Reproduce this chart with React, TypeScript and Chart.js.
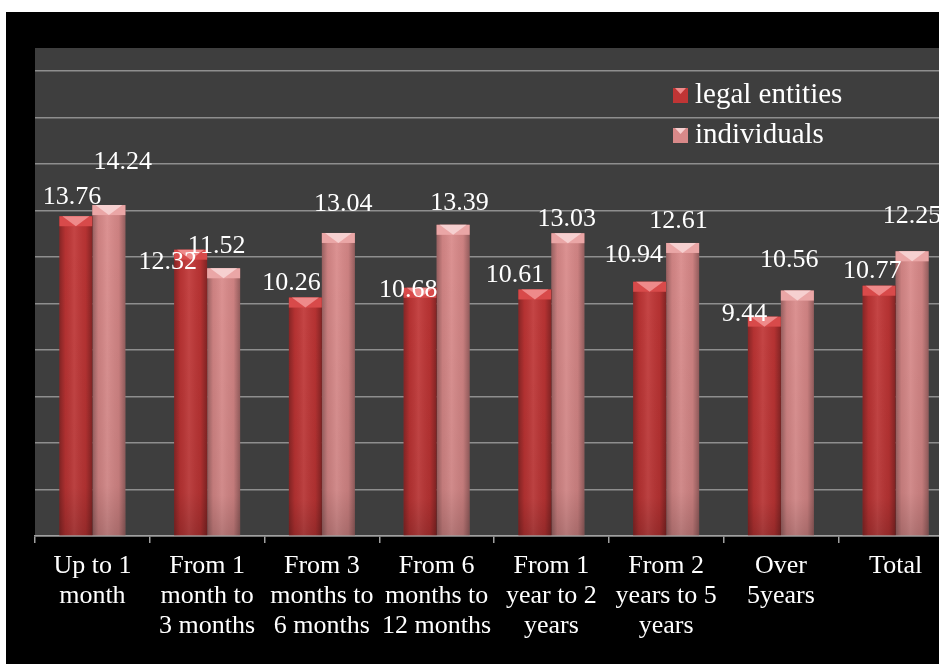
import { useEffect, useRef } from "react";
import { Chart, registerables } from "chart.js";

Chart.register(...registerables);

const categories: string[][] = [
  ["Up to 1", "month"],
  ["From 1", "month to", "3 months"],
  ["From 3", "months to", "6 months"],
  ["From 6", "months to", "12 months"],
  ["From 1", "year to 2", "years"],
  ["From 2", "years to 5", "years"],
  ["Over", "5years"],
  ["Total"],
];
const legalEntities = [13.76, 12.32, 10.26, 10.68, 10.61, 10.94, 9.44, 10.77];
const individuals = [14.24, 11.52, 13.04, 13.39, 13.03, 12.61, 10.56, 12.25];
const seriesNames = ["legal entities", "individuals"];
const yMin = 0;
const yMax = 21;
const yStep = 2;

// label nudges [dx, rise above bar top] in px
const legalNudge = [[-4, 19], [-23, -12], [-14, 14], [-12, -2], [-20, 14.5], [-16, 26.5], [-20, 2.5], [-7, 14.5]];
const indivNudge = [[14, 43], [-7, 22], [5, 28.5], [6.5, 21.5], [-1, 14.5], [-4, 22], [-8, 30], [0, 35.5]];

const RED = "#c03535";
const PINK = "#d98989";
const FONT = '"Liberation Serif", "Times New Roman", serif';

const plotBg = {
  id: "plotBg",
  beforeDraw(chart: any) {
    const { ctx, chartArea: a } = chart;
    ctx.save();
    ctx.fillStyle = "#3e3e3e";
    ctx.fillRect(a.left, a.top, a.right - a.left, a.bottom - a.top);
    ctx.restore();
  },
};

const capColors = [
  { cap: "#d84a4a", tri: "#ee8a8a" },
  { cap: "#eaa6a6", tri: "#f6d0d0" },
];

const barDecor = {
  id: "barDecor",
  afterDatasetsDraw(chart: any) {
    const ctx = chart.ctx;
    ctx.save();
    chart.data.datasets.forEach((ds: any, di: number) => {
      const meta = chart.getDatasetMeta(di);
      meta.data.forEach((el: any, i: number) => {
        const { x, y, base, width } = el.getProps(["x", "y", "base", "width"], true);
        const left = x - width / 2;
        const h = base - y;
        const g = ctx.createLinearGradient(left, 0, left + width, 0);
        g.addColorStop(0, "rgba(0,0,0,0.30)");
        g.addColorStop(0.18, "rgba(0,0,0,0.06)");
        g.addColorStop(0.45, "rgba(255,255,255,0.08)");
        g.addColorStop(0.8, "rgba(0,0,0,0.06)");
        g.addColorStop(1, "rgba(0,0,0,0.32)");
        ctx.fillStyle = g;
        ctx.fillRect(left, y, width, h);
        const gv = ctx.createLinearGradient(0, y, 0, base);
        gv.addColorStop(0, "rgba(0,0,0,0)");
        gv.addColorStop(0.85, "rgba(0,0,0,0.05)");
        gv.addColorStop(1, "rgba(0,0,0,0.18)");
        ctx.fillStyle = gv;
        ctx.fillRect(left, y, width, h);
        const capH = 10;
        ctx.fillStyle = capColors[di].cap;
        ctx.fillRect(left, y, width, capH);
        ctx.beginPath();
        ctx.moveTo(left + 3, y);
        ctx.lineTo(left + width - 3, y);
        ctx.lineTo(x, y + capH);
        ctx.closePath();
        ctx.fillStyle = capColors[di].tri;
        ctx.fill();
      });
    });
    // value labels
    ctx.font = `26px ${FONT}`;
    ctx.fillStyle = "#ffffff";
    ctx.textAlign = "center";
    ctx.textBaseline = "middle";
    chart.data.datasets.forEach((ds: any, di: number) => {
      const meta = chart.getDatasetMeta(di);
      const nudge = di === 0 ? legalNudge : indivNudge;
      meta.data.forEach((el: any, i: number) => {
        const { x, y } = el.getProps(["x", "y"], true);
        ctx.fillText(Number(ds.data[i]).toFixed(2), x + nudge[i][0], y - nudge[i][1]);
      });
    });
    ctx.restore();
  },
};

const legendPlugin = {
  id: "customLegend",
  afterDraw(chart: any) {
    const ctx = chart.ctx;
    const a = chart.chartArea;
    ctx.save();
    const bx = a.left + 638;
    const by = a.top + 40;
    const gap = 40;
    const colors = [RED, PINK];
    seriesNames.forEach((name, i) => {
      const yy = by + i * gap;
      ctx.fillStyle = colors[i];
      ctx.fillRect(bx, yy, 15, 15);
      ctx.beginPath();
      ctx.moveTo(bx + 2, yy);
      ctx.lineTo(bx + 13, yy);
      ctx.lineTo(bx + 7.5, yy + 6);
      ctx.closePath();
      ctx.fillStyle = capColors[i].tri;
      ctx.fill();
      ctx.font = `29px ${FONT}`;
      ctx.fillStyle = "#ffffff";
      ctx.textAlign = "left";
      ctx.textBaseline = "alphabetic";
      ctx.fillText(name, bx + 22, yy + 15);
    });
    ctx.restore();
  },
};

export default function App() {
  const ref = useRef<HTMLCanvasElement | null>(null);
  useEffect(() => {
    if (!ref.current) return;
    const chart = new Chart(ref.current, {
      type: "bar",
      data: {
        labels: categories,
        datasets: [
          { label: seriesNames[0], data: legalEntities, backgroundColor: RED, borderWidth: 0 },
          { label: seriesNames[1], data: individuals, backgroundColor: PINK, borderWidth: 0 },
        ],
      },
      options: {
        responsive: false,
        animation: false,
        events: [],
        layout: { padding: { left: 29, top: 36, right: 13, bottom: 0 } },
        datasets: { bar: { categoryPercentage: 0.575, barPercentage: 1 } },
        plugins: { legend: { display: false }, tooltip: { enabled: false } },
        scales: {
          x: {
            grid: { offset: true, drawOnChartArea: false, drawTicks: true, tickLength: 7, color: "#a0a0a0", lineWidth: 1.5 },
            border: { display: true, color: "#a0a0a0", width: 1.5 },
            ticks: {
              color: "#ffffff",
              font: { family: FONT, size: 26, lineHeight: 1.15 },
              autoSkip: false,
              maxRotation: 0,
              minRotation: 0,
              padding: 8,
            },
            afterFit(scale: any) {
              scale.height = 128;
            },
          },
          y: {
            min: yMin,
            max: yMax,
            ticks: { display: false, stepSize: yStep },
            grid: {
              drawTicks: false,
              lineWidth: 1.5,
              color: (c: any) => (c.tick && c.tick.value > 20 ? "rgba(0,0,0,0)" : "#8e8e8e"),
            },
            border: { display: false },
            afterFit(scale: any) {
              scale.width = 0;
            },
          },
        },
      },
      plugins: [plotBg, barDecor, legendPlugin],
    });
    return () => chart.destroy();
  }, []);
  return (
    <div style={{ position: "fixed", left: 0, top: 0, width: 939, height: 664, background: "#ffffff", overflow: "hidden" }}>
      <div style={{ position: "absolute", left: 6, top: 12, width: 960, height: 652, background: "#000000" }}>
        <canvas ref={ref} width={960} height={652} style={{ display: "block", width: 960, height: 652 }} />
      </div>
    </div>
  );
}
